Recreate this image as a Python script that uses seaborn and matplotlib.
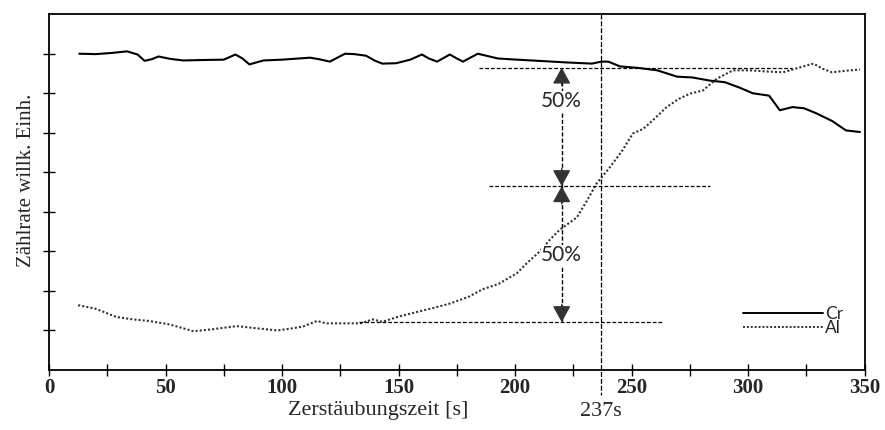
import numpy as np
import pandas as pd
import matplotlib
matplotlib.use("Agg")
import matplotlib.pyplot as plt
from matplotlib.lines import Line2D
import seaborn as sns

# Sputter depth profile: Cr and Al count rates vs. sputter time
cr_time = [13, 20, 27, 33.5, 38, 41, 44, 47, 52, 57.5, 65, 75, 80, 83, 86, 92, 100,
           112, 116, 120.5, 127, 131, 136, 140, 143, 149, 155, 160, 163, 166.5, 172,
           175, 177.6, 184, 192.6, 200.8, 210, 222, 233, 237, 240, 245, 253, 261,
           269.5, 276, 283.6, 290, 296, 302, 309, 313.6, 319, 324, 329, 336, 342, 348]
cr_rate = [8.00, 7.99, 8.02, 8.06, 7.98, 7.82, 7.86, 7.93, 7.87, 7.83, 7.84, 7.85,
           7.98, 7.88, 7.73, 7.83, 7.85, 7.90, 7.86, 7.80, 8.00, 7.99, 7.95, 7.82,
           7.75, 7.76, 7.85, 7.98, 7.88, 7.80, 7.98, 7.88, 7.80, 8.00, 7.88, 7.85,
           7.82, 7.78, 7.75, 7.80, 7.80, 7.68, 7.64, 7.58, 7.42, 7.40, 7.32, 7.28,
           7.15, 7.00, 6.94, 6.57, 6.65, 6.62, 6.50, 6.30, 6.06, 6.02]

al_time = [12.5, 20, 29, 36, 43, 52, 62, 70, 80.6, 90, 98, 104, 109, 115, 119, 126,
           133.5, 139, 143, 150, 158, 165, 172, 180, 186, 193, 200.8, 205, 210.6,
           215, 219, 226.5, 231, 235, 240.7, 246, 250.5, 255, 259, 265, 270, 275,
           280.6, 286.6, 293.5, 300.7, 308, 315, 322, 328, 332, 336, 342, 348]
al_rate = [1.64, 1.55, 1.34, 1.28, 1.24, 1.15, 0.98, 1.03, 1.11, 1.05, 1.00, 1.05,
           1.10, 1.24, 1.18, 1.18, 1.18, 1.28, 1.22, 1.35, 1.47, 1.57, 1.68, 1.85,
           2.04, 2.18, 2.45, 2.70, 3.00, 3.30, 3.54, 3.86, 4.30, 4.72, 5.13, 5.55,
           5.98, 6.10, 6.31, 6.65, 6.85, 6.99, 7.07, 7.37, 7.58, 7.58, 7.55, 7.53,
           7.65, 7.75, 7.62, 7.53, 7.57, 7.60]

x_ticks = [0, 50, 100, 150, 200, 250, 300, 350]
interface_time = 237
level_top, level_mid, level_bottom = 7.65, 4.65, 1.21
arrow_x = 220
pct_label = "50%"

df = pd.concat([
    pd.DataFrame({"t": cr_time, "rate": cr_rate, "elem": "Cr"}),
    pd.DataFrame({"t": al_time, "rate": al_rate, "elem": "Al"}),
])

sns.set_style("ticks")
plt.rcParams["font.family"] = ["Liberation Serif", "DejaVu Serif"]
plt.rcParams["lines.solid_joinstyle"] = "round"

fig = plt.figure(figsize=(8.85, 4.3), dpi=100)
ax = fig.add_axes([0.0554, 0.1395, 0.9216, 0.8275])

sns.lineplot(data=df, x="t", y="rate", hue="elem", style="elem",
             palette={"Cr": "black", "Al": "#333333"},
             dashes={"Cr": "", "Al": (1, 1)}, sort=False,
             linewidth=1.5, ax=ax, legend=False)

dash = (0, (3, 1.6))
ax.plot([184.5, 319], [level_top] * 2, color="black", lw=0.9, ls=dash)
ax.plot([189, 283.6], [level_mid] * 2, color="black", lw=0.9, ls=dash)
ax.plot([133, 263], [level_bottom] * 2, color="black", lw=0.9, ls=dash)

# interface marker reaching below the axis
ax.plot([interface_time, interface_time], [9, -0.63], color="black", lw=0.9,
        ls=(0, (4, 1.5)), clip_on=False)

# double arrows: dashed shafts with filled heads
for y0, y1 in [(level_mid, level_top), (level_mid, level_bottom)]:
    ax.plot([arrow_x, arrow_x], [y0, y1], color="black", lw=1.0, ls=(0, (3, 1.5)))
    for yb in (y0, y1):
        ya = y1 if yb == y0 else y0
        d = 0.45 if yb > ya else -0.45
        ax.annotate("", xy=(arrow_x, yb), xytext=(arrow_x, yb - d),
                    arrowprops=dict(arrowstyle="-|>,head_length=1.0,head_width=0.55",
                                    color="#333333", lw=1.0, shrinkA=0, shrinkB=0))

sans = ["Lato", "DejaVu Sans"]
for ytxt in (6.8, 2.9):
    ax.text(arrow_x, ytxt, pct_label, ha="center", va="center", fontsize=15,
            family=sans, bbox=dict(facecolor="white", edgecolor="none", pad=0.5))

# legend drawn as line samples with labels
handles = [Line2D([], [], color="black", lw=1.4),
           Line2D([], [], color="#333333", lw=1.4, ls=(0, (1, 1)))]
leg = ax.legend(handles, ["Cr", "Al"], loc="lower right", frameon=False,
                handlelength=4.6, handletextpad=0.1, labelspacing=-0.1,
                borderaxespad=0, prop={"family": sans, "size": 12.5},
                bbox_to_anchor=(0.982, 0.075))

ax.set_xlim(0, 350)
ax.set_ylim(0, 9)
ax.set_xticks(x_ticks)
ax.set_xticks(np.arange(25, 350, 50), minor=True)
ax.set_yticks(np.arange(1, 9))
ax.set_yticklabels([])
ax.tick_params(axis="both", which="both", direction="inout", length=8,
               width=1.0, color="black")
ax.tick_params(axis="x", labelsize=15, pad=2)
for lab in ax.get_xticklabels():
    lab.set_fontweight("bold")
for s in ax.spines.values():
    s.set_linewidth(1.3)
    s.set_color("black")
    s.set_visible(True)

ax.set_xlabel("")
ax.set_ylabel("")
fig.text(27 / 885, 1 - 180 / 430, "Zählrate willk. Einh.", rotation=90,
         ha="center", va="center", fontsize=15)
fig.text(378 / 885, 1 - 410 / 430, "Zerstäubungszeit [s]", ha="center",
         va="center", fontsize=16)
fig.text(601 / 885, 1 - 412 / 430, f"{interface_time}s", ha="center",
         va="center", fontsize=16)

fig.savefig("out.png", dpi=100)
